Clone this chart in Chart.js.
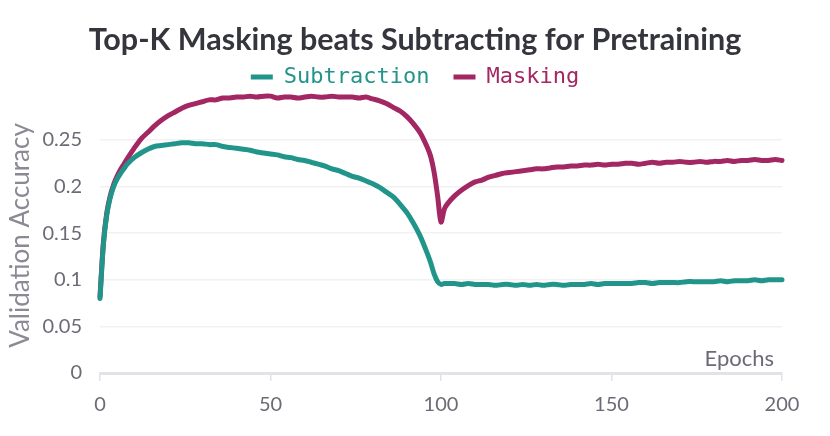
<!DOCTYPE html>
<html lang="en">
<head>
    <meta charset="UTF-8">
    <title>Top-K Masking beats Subtracting for Pretraining</title>
    <script src="https://cdn.jsdelivr.net/npm/chart.js"></script>
    <style>
        body { margin: 0; background: #fff; }
        #wrap { width: 830px; height: 436px; }
    </style>
</head>
<body>
    <div id="wrap"><canvas id="chartCanvas" width="830" height="436"></canvas></div>

    <script>
        const epochs = [0, 1, 2, 3, 4, 5, 6, 7, 8,
            10, 12, 14, 16, 18, 20, 22, 24, 26, 28, 30, 32, 34, 36, 38, 40, 42, 44, 46, 48,
            50, 52, 54, 56, 58, 60, 62, 64, 66, 68, 70, 72, 74, 76, 78, 80, 82, 84, 86, 88,
            90, 92, 94, 96, 97, 98, 99, 100, 101,
            102, 104, 106, 108, 110, 112, 114, 116, 118, 120, 122, 124, 126, 128, 130, 132, 134, 136, 138,
            140, 142, 144, 146, 148, 150, 152, 154, 156, 158, 160, 162, 164, 166, 168, 170, 172, 174, 176,
            178, 180, 182, 184, 186, 188, 190, 192, 194, 196, 198, 200];

        const subtraction = [0.080, 0.138, 0.170, 0.188, 0.200, 0.208, 0.214, 0.219, 0.224,
            0.231, 0.236, 0.240, 0.243, 0.244, 0.245, 0.246, 0.247, 0.247, 0.246, 0.246, 0.245, 0.245, 0.243, 0.242, 0.241, 0.240, 0.239, 0.237, 0.236,
            0.235, 0.234, 0.232, 0.231, 0.229, 0.228, 0.226, 0.224, 0.222, 0.219, 0.217, 0.214, 0.211, 0.209, 0.206, 0.203, 0.199, 0.194, 0.189, 0.181,
            0.172, 0.160, 0.146, 0.128, 0.118, 0.106, 0.098, 0.095, 0.096,
            0.096, 0.096, 0.095, 0.096, 0.095, 0.095, 0.095, 0.094, 0.095, 0.095, 0.094, 0.095, 0.094, 0.095, 0.094, 0.095, 0.095, 0.094, 0.095,
            0.095, 0.095, 0.096, 0.095, 0.096, 0.096, 0.096, 0.096, 0.096, 0.097, 0.097, 0.096, 0.097, 0.097, 0.097, 0.097, 0.098, 0.098, 0.098,
            0.098, 0.098, 0.099, 0.098, 0.099, 0.099, 0.099, 0.100, 0.099, 0.100, 0.100, 0.100];

        const masking = [0.082, 0.140, 0.172, 0.190, 0.202, 0.211, 0.218, 0.224, 0.230,
            0.241, 0.251, 0.258, 0.265, 0.271, 0.276, 0.280, 0.284, 0.287, 0.289, 0.291, 0.293, 0.293, 0.295, 0.295, 0.296, 0.296, 0.297, 0.296, 0.297,
            0.297, 0.295, 0.296, 0.296, 0.295, 0.296, 0.297, 0.296, 0.296, 0.297, 0.296, 0.296, 0.296, 0.295, 0.296, 0.294, 0.292, 0.289, 0.285, 0.281,
            0.275, 0.267, 0.257, 0.242, 0.232, 0.215, 0.190, 0.162, 0.176,
            0.182, 0.190, 0.196, 0.201, 0.205, 0.207, 0.210, 0.212, 0.214, 0.215, 0.216, 0.217, 0.218, 0.219, 0.219, 0.220, 0.221, 0.221, 0.222,
            0.222, 0.223, 0.223, 0.224, 0.223, 0.224, 0.224, 0.225, 0.225, 0.224, 0.225, 0.226, 0.225, 0.226, 0.226, 0.227, 0.226, 0.226, 0.227,
            0.226, 0.227, 0.227, 0.228, 0.227, 0.228, 0.228, 0.229, 0.228, 0.228, 0.229, 0.228];

        const seriesNames = ['Subtraction', 'Masking'];
        const seriesColors = ['#22958a', '#a22762'];

        const toPoints = (ys) => ys.map((y, i) => ({ x: epochs[i], y: y }));

        // "Epochs" sits inside the plot, bottom right, like the W&B export
        const epochsLabel = {
            id: 'epochsLabel',
            afterDraw(chart) {
                const { ctx, chartArea } = chart;
                ctx.save();
                ctx.font = '22px Lato';
                ctx.fillStyle = '#6b6b76';
                ctx.textAlign = 'right';
                ctx.textBaseline = 'alphabetic';
                ctx.fillText('Epochs', chartArea.right - 8, chartArea.bottom - 7);
                ctx.restore();
            }
        };

        const ctx = document.getElementById('chartCanvas').getContext('2d');
        const chart = new Chart(ctx, {
            type: 'line',
            data: {
                datasets: [
                    { label: seriesNames[0], data: toPoints(subtraction), borderColor: seriesColors[0], clip: false },
                    { label: seriesNames[1], data: toPoints(masking), borderColor: seriesColors[1], clip: false }
                ]
            },
            options: {
                responsive: false,
                animation: false,
                layout: { padding: 0 },
                elements: {
                    point: { radius: 0 },
                    line: { borderWidth: 5, tension: 0.3, borderCapStyle: 'round', borderJoinStyle: 'round' }
                },
                plugins: {
                    title: {
                        display: true,
                        text: 'Top-K Masking beats Subtracting for Pretraining',
                        color: '#35353d',
                        font: { family: 'Lato', size: 30.5, weight: 'bold' },
                        padding: { top: 22, bottom: -16.6 }
                    },
                    legend: {
                        display: true,
                        labels: {
                            font: { family: 'DejaVu Sans Mono', size: 22 },
                            boxWidth: 22,
                            boxHeight: 5,
                            padding: 24,
                            generateLabels(chart) {
                                const items = Chart.defaults.plugins.legend.labels.generateLabels(chart);
                                items.forEach((it, i) => {
                                    it.fillStyle = seriesColors[i];
                                    it.strokeStyle = seriesColors[i];
                                    it.fontColor = seriesColors[i];
                                    it.lineWidth = 0;
                                });
                                return items;
                            }
                        }
                    },
                    tooltip: { enabled: false }
                },
                scales: {
                    x: {
                        type: 'linear',
                        min: 0,
                        max: 200,
                        ticks: { stepSize: 50, color: '#6b6b76', font: { family: 'Lato', size: 20 }, padding: 12, maxRotation: 0 },
                        grid: { drawOnChartArea: false, drawTicks: true, tickLength: 8, color: '#e2e2e8', lineWidth: 1.5 },
                        border: { display: true, color: '#e2e2e8', width: 3 },
                        afterFit(scale) { scale.height = 63; }
                    },
                    y: {
                        min: 0,
                        max: 0.295,
                        ticks: {
                            stepSize: 0.05,
                            includeBounds: false,
                            color: '#6b6b76',
                            font: { family: 'Lato', size: 20 },
                            padding: 18,
                            callback: (v) => String(+v.toFixed(2))
                        },
                        grid: {
                            drawTicks: false,
                            lineWidth: 1.5,
                            color: (c) => (c.tick && c.tick.value === 0) ? 'rgba(0,0,0,0)' : '#f1f1f3'
                        },
                        border: { display: false },
                        title: {
                            display: true,
                            text: 'Validation Accuracy',
                            color: '#8a8a94',
                            font: { family: 'Lato', size: 26 },
                            padding: { top: 5, bottom: 0 }
                        },
                        afterFit(scale) { scale.width = 100; }
                    },
                    // empty right-hand axis: only reserves the right margin, so title and legend stay centred on the page
                    yRight: {
                        position: 'right',
                        min: 0,
                        max: 0.295,
                        ticks: { display: false },
                        grid: { drawOnChartArea: false, drawTicks: false },
                        border: { display: false },
                        afterFit(scale) { scale.width = 48; }
                    }
                }
            },
            plugins: [epochsLabel]
        });
    </script>
</body>
</html>
